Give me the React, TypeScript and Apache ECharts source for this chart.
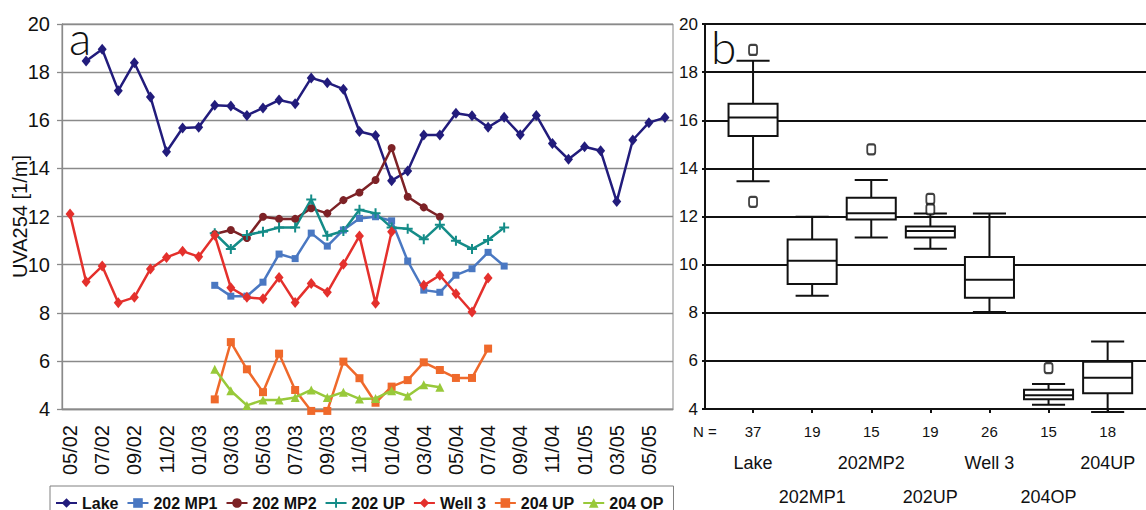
import React, { useEffect, useRef } from "react";
import * as echarts from "echarts";

// Monthly sampling slots (MM/YY); every other one is labelled on the axis.
const months = [
  "05/02", "06/02", "07/02", "08/02", "09/02", "10/02", "11/02", "12/02",
  "01/03", "02/03", "03/03", "04/03", "05/03", "06/03", "07/03", "08/03",
  "09/03", "10/03", "11/03", "12/03", "01/04", "02/04", "03/04", "04/04",
  "05/04", "06/04", "07/04", "08/04", "09/04", "10/04", "11/04", "12/04",
  "01/05", "02/05", "03/05", "04/05", "05/05", "06/05",
];

// UVA254 [1/m] per site; each list starts at the month index given by *Start.
const lakeStart = 1;
const lakeValues = [
  18.46, 18.95, 17.23, 18.39, 16.97, 14.69, 15.68, 15.71, 16.62, 16.59,
  16.2, 16.51, 16.84, 16.69, 17.76, 17.56, 17.29, 15.53, 15.37, 13.49,
  13.89, 15.39, 15.39, 16.29, 16.19, 15.71, 16.12, 15.4, 16.2, 15.03,
  14.38, 14.9, 14.73, 12.62, 15.18, 15.9, 16.11,
];
const mp1Start = 9;
const mp1Values = [
  9.14, 8.69, 8.69, 9.27, 10.44, 10.25, 11.31, 10.77, 11.44, 11.92,
  11.99, 11.82, 10.15, 8.94, 8.85, 9.56, 9.83, 10.51, 9.94,
];
const mp2Start = 9;
const mp2Values = [
  11.27, 11.44, 11.11, 11.99, 11.9, 11.9, 12.34, 12.13, 12.68, 13.0,
  13.52, 14.85, 12.82, 12.38, 11.99,
];
const up202Start = 9;
const up202Values = [
  11.3, 10.65, 11.23, 11.37, 11.54, 11.54, 12.71, 11.2, 11.4, 12.28,
  12.13, 11.54, 11.49, 11.05, 11.66, 10.99, 10.65, 11.02, 11.54,
];
const well3Start = 0;
const well3Values = [
  12.1, 9.29, 9.94, 8.42, 8.64, 9.82, 10.3, 10.56, 10.33, 11.22,
  9.04, 8.64, 8.58, 9.47, 8.43, 9.22, 8.85, 10.02, 11.19, 8.39,
  11.37, null, 9.14, 9.56, 8.79, 8.03, 9.44,
];
const up204Start = 9;
const up204Values = [
  4.4, 6.78, 5.65, 4.7, 6.3, 4.79, 3.92, 3.92, 5.97, 5.28,
  4.26, 4.93, 5.2, 5.94, 5.62, 5.29, 5.29, 6.51,
];
const op204Start = 9;
const op204Values = [
  5.65, 4.76, 4.15, 4.37, 4.37, 4.48, 4.79, 4.48, 4.7, 4.42,
  4.44, 4.76, 4.54, 5.01, 4.9,
];

// Box plot summary per site (whisker low, Q1, median, Q3, whisker high).
const boxNames = ["Lake", "202MP1", "202MP2", "202UP", "Well 3", "204OP", "204UP"];
const boxLow = [13.46, 8.71, 11.13, 10.66, 8.03, 4.18, 3.88];
const boxQ1 = [15.35, 9.19, 11.88, 11.13, 8.62, 4.41, 4.65];
const boxMedian = [16.11, 10.16, 12.13, 11.4, 9.37, 4.57, 5.3];
const boxQ3 = [16.69, 11.04, 12.78, 11.58, 10.32, 4.8, 5.96];
const boxHigh = [18.47, 11.99, 13.52, 12.12, 12.12, 5.04, 6.81];
const outlierSite = [0, 0, 2, 3, 3, 5];
const outlierValue = [18.92, 12.61, 14.79, 12.73, 12.3, 5.7];

const yTicksMin = 4;
const yTicksMax = 20;
const yTickStep = 2;

const padSeries = (start: number, values: (number | null)[]) => {
  const out: (number | null)[] = months.map(() => null);
  values.forEach((v, i) => {
    out[start + i] = v;
  });
  return out;
};
const countOf = (values: (number | null)[]) => values.filter((v) => v != null).length;

const boxCounts = [
  countOf(lakeValues),
  countOf(mp1Values),
  countOf(mp2Values),
  countOf(up202Values),
  countOf(well3Values),
  countOf(op204Values),
  countOf(up204Values),
];

const SANS = '"Liberation Sans", Arial, sans-serif';
const PLUS = "path://M4,0h2v4h4v2h-4v4h-2v-4h-4v-2h4z";

const lineSeries = (
  name: string,
  data: (number | null)[],
  color: string,
  symbol: string,
  symbolSize: number | number[],
  extra: Record<string, unknown> = {}
) => ({
  name,
  type: "line",
  xAxisIndex: 0,
  yAxisIndex: 0,
  data,
  connectNulls: false,
  symbol,
  symbolSize,
  showSymbol: true,
  showAllSymbol: true,
  lineStyle: { color, width: 2.5 },
  itemStyle: { color },
  emphasis: { disabled: true },
  ...extra,
});

export default function App() {
  const ref = useRef<HTMLDivElement>(null);

  useEffect(() => {
    if (!ref.current) return;
    const chart = echarts.init(ref.current, null, { renderer: "svg" });

    const boxData = boxNames.map((_, i) => [i, boxLow[i], boxQ1[i], boxMedian[i], boxQ3[i], boxHigh[i]]);
    const outlierData = outlierSite.map((s, i) => [s, outlierValue[i]]);

    const option = {
      animation: false,
      backgroundColor: "#ffffff",
      textStyle: { fontFamily: SANS, color: "#000" },
      legend: {
        left: 50,
        top: 486,
        padding: [9, 10, 10, 5],
        borderColor: "#808080",
        borderWidth: 1,
        itemWidth: 21,
        itemHeight: 12,
        itemGap: 8,
        textStyle: { fontFamily: SANS, fontWeight: "bold", fontSize: 16, color: "#111" },
        data: ["Lake", "202 MP1", "202 MP2", "202 UP", "Well 3", "204 UP", "204 OP"],
      },
      grid: [
        { left: 62, top: 24, right: 473, bottom: 101, outerBoundsMode: "none", show: true, borderColor: "#8a8a8a", borderWidth: 1 },
        { left: 705, top: 24, right: 0, bottom: 101, outerBoundsMode: "none" },
        { left: 723.5, top: 24, width: 413.7, bottom: 101, outerBoundsMode: "none" },
      ],
      xAxis: [
        {
          gridIndex: 0,
          type: "category",
          data: months,
          boundaryGap: true,
          axisLine: { lineStyle: { color: "#8a8a8a", width: 1.3 } },
          axisTick: { interval: 1, length: 5, lineStyle: { color: "#8a8a8a", width: 1.3 } },
          axisLabel: { interval: 1, rotate: 90, fontSize: 20, margin: 16, color: "#111", fontFamily: SANS },
        },
        {
          gridIndex: 1,
          type: "value",
          min: 0,
          max: 1,
          axisLine: { show: true, lineStyle: { color: "#111", width: 2 } },
          axisTick: { show: false },
          axisLabel: { show: false },
          splitLine: { show: false },
        },
        {
          gridIndex: 2,
          type: "category",
          data: boxNames,
          axisLine: { show: false },
          axisTick: { show: true, alignWithLabel: true, length: 4, lineStyle: { color: "#111", width: 2 } },
          axisLabel: {
            interval: 0,
            margin: 7,
            color: "#111",
            formatter: (value: string, index: number) =>
              index % 2 === 0
                ? `{n|${boxCounts[index]}}\n{nm|${value}}\n{nm| }`
                : `{n|${boxCounts[index]}}\n{nm| }\n{nm|${value}}`,
            rich: {
              n: { fontFamily: SANS, fontSize: 15, lineHeight: 30, color: "#111" },
              nm: { fontFamily: SANS, fontSize: 18, lineHeight: 34, color: "#111" },
            },
          },
        },
      ],
      yAxis: [
        {
          gridIndex: 0,
          type: "value",
          min: yTicksMin,
          max: yTicksMax,
          interval: yTickStep,
          name: "UVA254 [1/m]",
          nameLocation: "middle",
          nameGap: 32,
          nameMoveOverlap: false,
          nameTextStyle: { fontSize: 20, fontFamily: SANS, color: "#111" },
          axisLine: { show: true, lineStyle: { color: "#8a8a8a", width: 1.3 } },
          axisTick: { show: true, length: 5, lineStyle: { color: "#8a8a8a", width: 1.3 } },
          axisLabel: { fontSize: 20, margin: 12, color: "#111", fontFamily: SANS },
          splitLine: { lineStyle: { color: "#8a8a8a", width: 1.3 } },
        },
        {
          gridIndex: 1,
          type: "value",
          min: yTicksMin,
          max: yTicksMax,
          interval: yTickStep,
          axisLine: { show: true, lineStyle: { color: "#111", width: 2 } },
          axisTick: { show: true, length: 3, lineStyle: { color: "#111", width: 2 } },
          axisLabel: { fontSize: 17, margin: 7, color: "#111", fontFamily: SANS },
          splitLine: { lineStyle: { color: "#111", width: 2 } },
        },
        {
          gridIndex: 2,
          type: "value",
          min: yTicksMin,
          max: yTicksMax,
          show: false,
        },
      ],
      graphic: [
        { type: "text", x: 69, y: 37, style: { text: "a", font: "300 46px Lato, sans-serif", fill: "#111", verticalAlign: "middle" } },
        { type: "text", x: 711, y: 46, style: { text: "b", font: "300 46px Lato, sans-serif", fill: "#111", verticalAlign: "middle" } },
        { type: "text", x: 693, y: 431, style: { text: "N =", font: `15px ${SANS}`, fill: "#111", verticalAlign: "middle" } },
      ],
      series: [
        lineSeries("Lake", padSeries(lakeStart, lakeValues), "#221c7c", "diamond", [9, 11]),
        lineSeries("202 MP1", padSeries(mp1Start, mp1Values), "#4a78c2", "rect", 7),
        lineSeries("202 MP2", padSeries(mp2Start, mp2Values), "#7d2226", "circle", 8),
        lineSeries("202 UP", padSeries(up202Start, up202Values), "#148c88", PLUS, 10),
        lineSeries("Well 3", padSeries(well3Start, well3Values), "#e4302c", "diamond", [9, 11]),
        lineSeries("204 UP", padSeries(up204Start, up204Values), "#ef692b", "rect", 8, { clip: false }),
        lineSeries("204 OP", padSeries(op204Start, op204Values), "#98c93a", "triangle", 9),
        {
          type: "custom",
          xAxisIndex: 2,
          yAxisIndex: 2,
          data: boxData,
          clip: false,
          z: 3,
          renderItem: (_params: unknown, api: any) => {
            const idx = api.value(0);
            const band = api.size([1, 0])[0];
            const half = (band * 0.83) / 2;
            const cap = (band * 0.56) / 2;
            const pLow = api.coord([idx, api.value(1)]);
            const pQ1 = api.coord([idx, api.value(2)]);
            const pMed = api.coord([idx, api.value(3)]);
            const pQ3 = api.coord([idx, api.value(4)]);
            const pHigh = api.coord([idx, api.value(5)]);
            const x = pMed[0];
            const stroke = { stroke: "#111", lineWidth: 2, fill: null };
            return {
              type: "group",
              children: [
                { type: "line", shape: { x1: x, y1: pHigh[1], x2: x, y2: pQ3[1] }, style: stroke },
                { type: "line", shape: { x1: x, y1: pQ1[1], x2: x, y2: pLow[1] }, style: stroke },
                { type: "line", shape: { x1: x - cap, y1: pHigh[1], x2: x + cap, y2: pHigh[1] }, style: stroke },
                { type: "line", shape: { x1: x - cap, y1: pLow[1], x2: x + cap, y2: pLow[1] }, style: stroke },
                {
                  type: "rect",
                  shape: { x: x - half, y: pQ3[1], width: half * 2, height: pQ1[1] - pQ3[1] },
                  style: { stroke: "#111", lineWidth: 2, fill: "#ffffff" },
                },
                { type: "line", shape: { x1: x - half, y1: pMed[1], x2: x + half, y2: pMed[1] }, style: stroke },
              ],
            };
          },
        },
        {
          type: "scatter",
          xAxisIndex: 2,
          yAxisIndex: 2,
          data: outlierData,
          symbol: "roundRect",
          symbolSize: [8, 10],
          z: 4,
          itemStyle: { color: "#ffffff", borderColor: "#111", borderWidth: 2 },
          emphasis: { disabled: true },
        },
      ],
    };

    chart.setOption(option as any);
    return () => chart.dispose();
  }, []);

  return (
    <div
      ref={ref}
      style={{ position: "fixed", left: 0, top: 0, width: 1146, height: 510, background: "#ffffff" }}
    />
  );
}
